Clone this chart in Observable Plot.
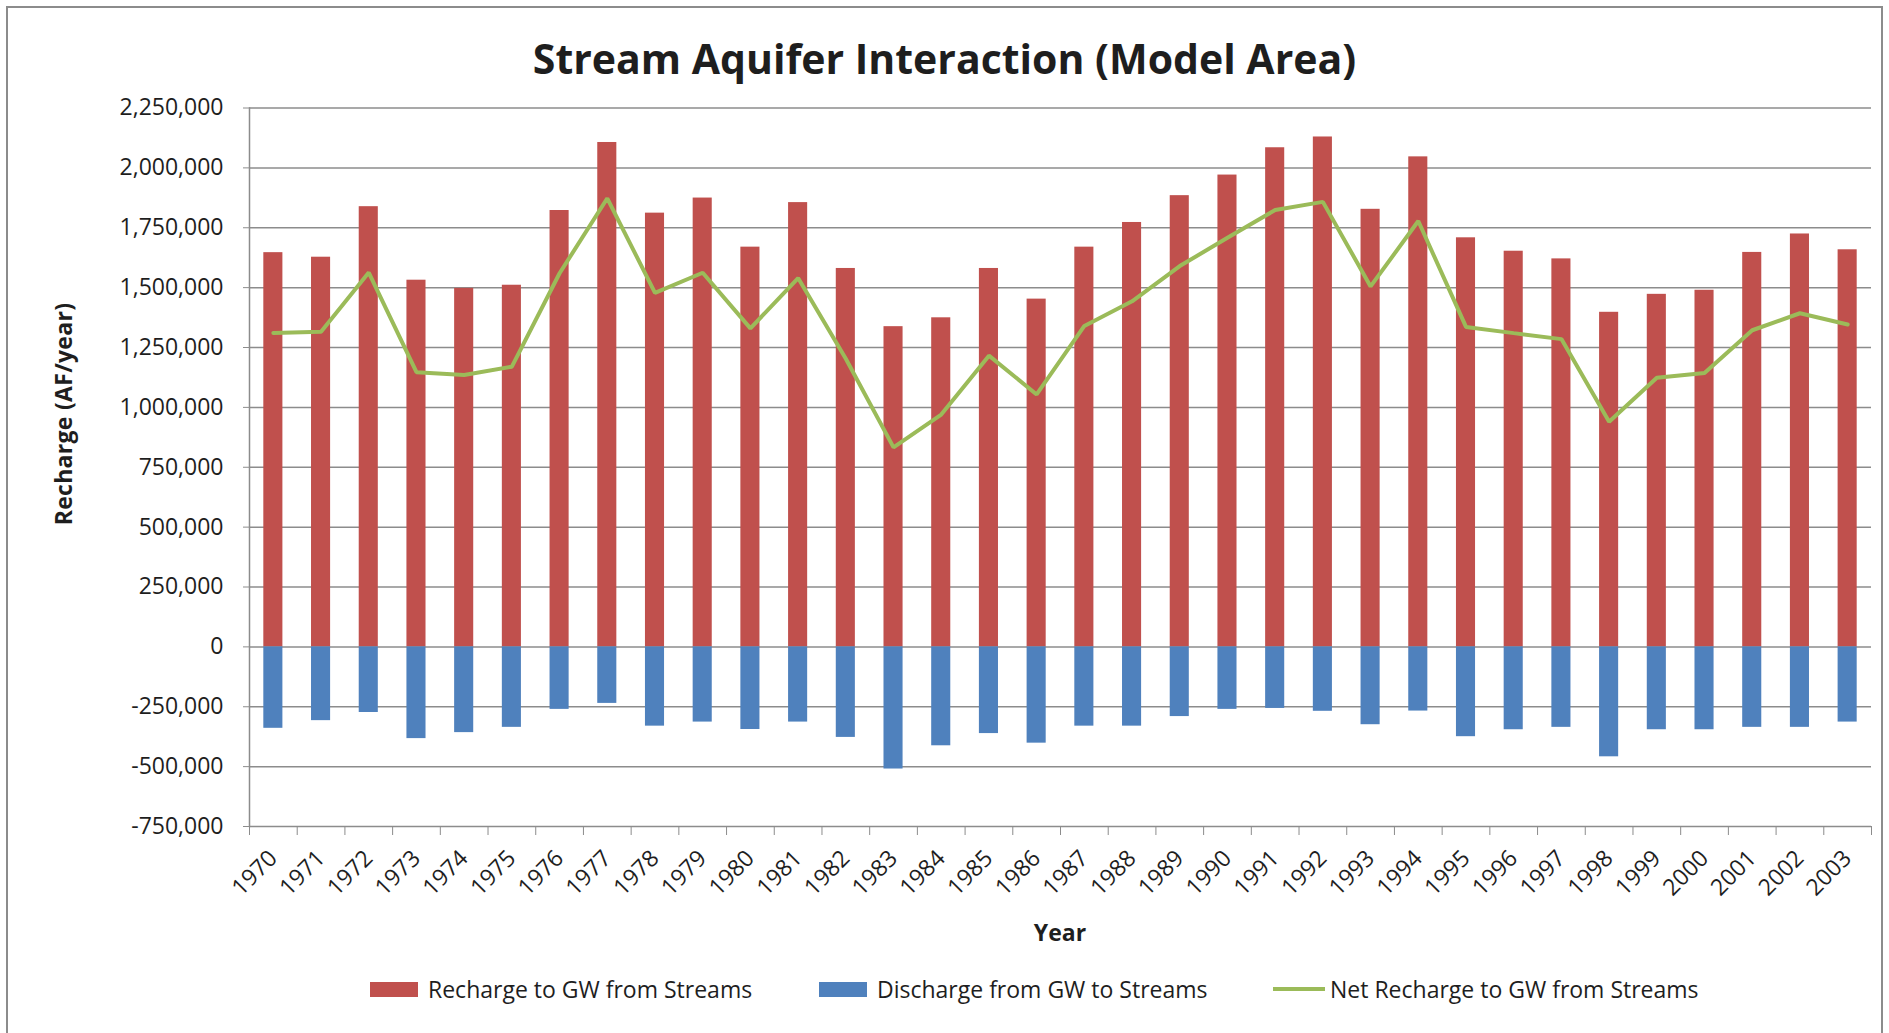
<!DOCTYPE html>
<html>
<head>
<meta charset="utf-8">
<script src="https://cdn.jsdelivr.net/npm/d3@7"></script>
<script src="https://cdn.jsdelivr.net/npm/@observablehq/plot@0.6"></script>
<style>
  html, body { margin: 0; padding: 0; background: #fff; }
  #page { position: relative; width: 1889px; height: 1033px; overflow: hidden; background: #fff;
          font-family: "Open Sans", sans-serif; color: #1e1e1e; }
  #frame { position: absolute; left: 6px; top: 6px; width: 1873px; height: 1080px; border: 2px solid #8c8c8c;
           z-index: 5; pointer-events: none; background: transparent; }
  #title { position: absolute; left: 0; width: 1889px; top: 28px; text-align: center;
           font-weight: 700; font-size: 41px; line-height: 60px; white-space: nowrap; }
  #chart { position: absolute; left: 0; top: 90px; }
  #ytitle { position: absolute; left: 63px; top: 414px; transform: translate(-50%, -50%) rotate(-90deg);
            font-weight: 700; font-size: 23px; white-space: nowrap; letter-spacing: 0.3px; }
  #xtitle { position: absolute; left: 1060px; top: 932px; transform: translate(-50%, -50%);
            font-weight: 700; font-size: 23px; }
  .leg { position: absolute; top: 989px; transform: translateY(-50%); display: flex; align-items: center;
         font-size: 23px; white-space: nowrap; }
  .sw { display: inline-block; }
</style>
</head>
<body>
<div id="page">
  <div id="frame"></div>
  <div id="title"></div>
  <div id="chart"></div>
  <div id="ytitle"></div>
  <div id="xtitle"></div>
  <div id="legend"></div>
</div>
<script>
// ---- data ----
const years = ["1970","1971","1972","1973","1974","1975","1976","1977","1978","1979",
               "1980","1981","1982","1983","1984","1985","1986","1987","1988","1989",
               "1990","1991","1992","1993","1994","1995","1996","1997","1998","1999",
               "2000","2001","2002","2003"];
const recharge = [1646000,1627000,1838000,1531000,1497000,1510000,1822000,2106000,1811000,1874000,
                  1669000,1855000,1580000,1337000,1374000,1580000,1452000,1669000,1772000,1884000,
                  1970000,2084000,2129000,1827000,2046000,1708000,1652000,1620000,1397000,1472000,
                  1489000,1647000,1724000,1658000];
const discharge = [-340000,-308000,-274000,-383000,-358000,-336000,-261000,-236000,-331000,-314000,
                   -345000,-314000,-378000,-510000,-413000,-362000,-402000,-331000,-331000,-291000,
                   -261000,-257000,-269000,-325000,-268000,-375000,-346000,-336000,-459000,-346000,
                   -346000,-336000,-336000,-314000];
const net = [1311000,1316000,1563000,1147000,1135000,1170000,1560000,1873000,1478000,1562000,
             1330000,1540000,1203000,833000,970000,1216000,1054000,1340000,1443000,1590000,
             1708000,1824000,1858000,1505000,1778000,1336000,1310000,1285000,940000,1124000,
             1144000,1322000,1393000,1346000];
const yTicks = [-750000,-500000,-250000,0,250000,500000,750000,1000000,1250000,1500000,1750000,2000000,2250000];
const seriesNames = ["Recharge to GW from Streams","Discharge from GW to Streams","Net Recharge to GW from Streams"];
const seriesColors = ["#C0504D","#4F81BD","#9BBB59"];
const titleText = "Stream Aquifer Interaction (Model Area)";
const yTitle = "Recharge (AF/year)";
const xTitle = "Year";

// ---- layout ----
const W = 1889, H = 830, ML = 249, MR = 18, MT = 17.5, MB = 94;
const step = (W - ML - MR) / years.length;
const gray = "#8c8c8c";
const txt = "#1e1e1e";
const fmt = d => d3.format(",")(d).replace("\u2212", "-");

const rows = vals => years.map((y, i) => ({year: y, value: vals[i]}));

const chart = Plot.plot({
  width: W, height: H,
  marginLeft: ML, marginRight: MR, marginTop: MT, marginBottom: MB,
  style: {fontFamily: '"Open Sans", sans-serif', fontSize: "23px", color: txt, background: "transparent", overflow: "visible"},
  x: {type: "band", domain: years, paddingInner: 0.6, paddingOuter: 0.3, align: 0.5, round: false, label: null},
  y: {domain: [yTicks[0], yTicks[yTicks.length - 1]], label: null},
  marks: [
    Plot.gridY(yTicks, {stroke: gray, strokeOpacity: 1, strokeWidth: 1.5}),
    Plot.frame({anchor: "left", stroke: gray, strokeWidth: 1.5}),
    Plot.axisY(yTicks, {tickSize: 6, tickPadding: 20, tickFormat: fmt, stroke: gray, fill: txt, fontSize: 23, label: null}),
    Plot.axisX(years, {tickSize: 9, tickFormat: () => "", dx: -step / 2, stroke: gray, label: null}),
    Plot.axisX([years[years.length - 1]], {tickSize: 9, tickFormat: () => "", dx: step / 2, stroke: gray, label: null}),
    Plot.axisX(years, {tickSize: 0, tickRotate: -45, tickPadding: 28, fill: txt, fontSize: 23, label: null}),
    Plot.barY(rows(recharge), {x: "year", y: "value", fill: seriesColors[0]}),
    Plot.barY(rows(discharge), {x: "year", y: "value", fill: seriesColors[1]}),
    Plot.line(rows(net), {x: "year", y: "value", stroke: seriesColors[2], strokeWidth: 4, strokeLinejoin: "miter"})
  ]
});
document.getElementById("chart").appendChild(chart);

document.getElementById("title").textContent = titleText;
document.getElementById("ytitle").textContent = yTitle;
document.getElementById("xtitle").textContent = xTitle;

// ---- legend ----
const legendLeft = [370, 819, 1273];
const legend = document.getElementById("legend");
seriesNames.forEach((name, i) => {
  const item = document.createElement("div");
  item.className = "leg";
  item.style.left = legendLeft[i] + "px";
  const sw = document.createElement("span");
  sw.className = "sw";
  sw.style.background = seriesColors[i];
  if (i < 2) { sw.style.width = "48px"; sw.style.height = "15px"; sw.style.marginRight = "10px"; }
  else { sw.style.width = "52px"; sw.style.height = "4px"; sw.style.marginRight = "5px"; }
  const label = document.createElement("span");
  label.textContent = name;
  item.appendChild(sw);
  item.appendChild(label);
  legend.appendChild(item);
});
</script>
</body>
</html>
